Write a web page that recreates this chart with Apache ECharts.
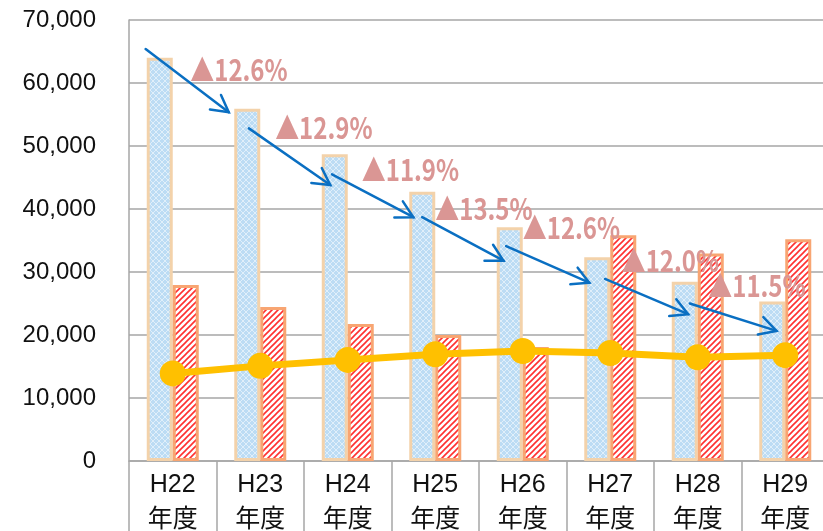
<!DOCTYPE html>
<html>
<head>
<meta charset="utf-8">
<script src="https://cdn.jsdelivr.net/npm/echarts@6/dist/echarts.min.js"></script>
<style>
  html, body { margin: 0; padding: 0; background: #fff; }
  #chart { width: 823px; height: 531px; }
</style>
</head>
<body>
<div id="chart"></div>
<script>
// Fiscal years
const years = ['H22\n年度', 'H23\n年度', 'H24\n年度', 'H25\n年度', 'H26\n年度', 'H27\n年度', 'H28\n年度', 'H29\n年度'];
// Blue (cross-hatched) bars
const blueValues = [64000, 55900, 48700, 42750, 37100, 32350, 28450, 25300];
// Red (striped) bars
const redValues = [27950, 24450, 21750, 20000, 18100, 35850, 32950, 35200];
// Yellow line
const lineValues = [13900, 15100, 16050, 16950, 17450, 17150, 16450, 16800];
// Y-axis ticks
const yMin = 0, yMax = 70000, yStep = 10000;

// Decline arrows: start / end points, x in category units (0..8), y in axis values
const arrowFrom = [[0.19, 65400], [1.37, 52800], [2.32, 45500], [3.35, 38700], [4.31, 34100], [5.44, 28900], [6.41, 25000]];
const arrowTo   = [[1.14, 55350], [2.30, 43800], [3.25, 38700], [4.28, 31800], [5.26, 28300], [6.39, 23300], [7.40, 20650]];

// Year-on-year decline labels, anchored at their left-middle point
const declineText = ['▲12.6%', '▲12.9%', '▲11.9%', '▲13.5%', '▲12.6%', '▲12.0%', '▲11.5%'];
const declinePos  = [[0.70, 62200], [1.67, 53000], [2.66, 46300], [3.50, 40000], [4.50, 37000], [5.63, 31750], [6.62, 27800]];

const FONT = '"Liberation Sans", "Noto Sans CJK JP", sans-serif';

function makePattern(size, draw) {
  const c = document.createElement('canvas');
  c.width = size; c.height = size;
  draw(c.getContext('2d'), size);
  return c;
}

// Light blue fill with a fine white diamond lattice
const bluePattern = makePattern(6, (ctx, s) => {
  ctx.fillStyle = '#bcdcf4';
  ctx.fillRect(0, 0, s, s);
  ctx.strokeStyle = 'rgba(255,255,255,0.6)';
  ctx.lineWidth = 0.9;
  ctx.beginPath();
  ctx.moveTo(-1, -1); ctx.lineTo(s + 1, s + 1);
  ctx.moveTo(-1, s + 1); ctx.lineTo(s + 1, -1);
  ctx.stroke();
});

// White fill with red "/" stripes
const redPattern = makePattern(6, (ctx, s) => {
  ctx.fillStyle = '#ffffff';
  ctx.fillRect(0, 0, s, s);
  ctx.strokeStyle = '#ff3030';
  ctx.lineWidth = 1.6;
  ctx.beginPath();
  for (let k = -1; k <= 1; k++) {
    ctx.moveTo(k * s - 1, s + 1);
    ctx.lineTo(k * s + s + 1, -1);
  }
  ctx.stroke();
});

const chart = echarts.init(document.getElementById('chart'), null, { renderer: 'canvas' });

const arrowData = arrowFrom.map((p, i) => [p[0], p[1], arrowTo[i][0], arrowTo[i][1]]);
const declineData = declinePos.map((p, i) => [p[0], p[1]]);

const gridColor = '#a6a6a6';

chart.setOption({
  animation: false,
  backgroundColor: '#ffffff',
  grid: { left: 129, top: 20, width: 700, height: 441, containLabel: false, outerBoundsMode: 'none' },
  xAxis: [
    {
      type: 'category',
      data: years,
      boundaryGap: true,
      axisLine: { show: true, lineStyle: { color: gridColor, width: 1.5 } },
      axisTick: { show: true, length: 72, interval: 0, lineStyle: { color: gridColor, width: 1.5 } },
      axisLabel: {
        interval: 0, margin: 7, color: '#111',
        fontFamily: FONT, fontSize: 25, lineHeight: 35
      },
      splitLine: { show: false }
    },
    { type: 'value', min: 0, max: 8, show: false }
  ],
  yAxis: {
    type: 'value',
    min: yMin, max: yMax, interval: yStep,
    axisLine: { show: true, lineStyle: { color: gridColor, width: 1.5 } },
    axisTick: { show: false },
    axisLabel: {
      margin: 33, color: '#111', fontFamily: FONT, fontSize: 24,
      formatter: v => v.toLocaleString('en-US')
    },
    splitLine: { show: true, lineStyle: { color: gridColor, width: 1.5 } }
  },
  series: [
    {
      type: 'bar',
      data: blueValues,
      barWidth: 26,
      barGap: '0%',
      itemStyle: { color: { image: bluePattern, repeat: 'repeat' }, borderColor: '#f3d2aa', borderWidth: 3 },
      z: 2
    },
    {
      type: 'bar',
      data: redValues,
      barWidth: 26,
      barGap: '0%',
      itemStyle: { color: { image: redPattern, repeat: 'repeat' }, borderColor: '#f8a572', borderWidth: 3 },
      z: 2
    },
    {
      type: 'line',
      data: lineValues,
      symbol: 'circle',
      symbolSize: 26,
      lineStyle: { color: '#ffc000', width: 7 },
      itemStyle: { color: '#ffc000' },
      z: 3
    },
    {
      type: 'custom',
      xAxisIndex: 1,
      data: arrowData,
      z: 4,
      renderItem(params, api) {
        const p0 = api.coord([api.value(0), api.value(1)]);
        const p1 = api.coord([api.value(2), api.value(3)]);
        const ang = Math.atan2(p1[1] - p0[1], p1[0] - p0[0]);
        const L = 19, a = 0.5;
        const h1 = [p1[0] - L * Math.cos(ang - a), p1[1] - L * Math.sin(ang - a)];
        const h2 = [p1[0] - L * Math.cos(ang + a), p1[1] - L * Math.sin(ang + a)];
        const st = { stroke: '#0a6fc2', lineWidth: 2.5, fill: null, lineCap: 'round', lineJoin: 'miter' };
        return {
          type: 'group',
          children: [
            { type: 'line', shape: { x1: p0[0], y1: p0[1], x2: p1[0], y2: p1[1] }, style: st },
            { type: 'polyline', shape: { points: [h1, p1, h2] }, style: st }
          ]
        };
      }
    },
    {
      type: 'custom',
      xAxisIndex: 1,
      data: declineData,
      z: 5,
      renderItem(params, api) {
        const p = api.coord([api.value(0), api.value(1)]);
        return {
          type: 'text',
          x: p[0], y: p[1],
          scaleX: 0.8,
          style: {
            text: declineText[params.dataIndex],
            fill: '#da9694',
            fontFamily: '"Noto Sans CJK JP", sans-serif',
            fontSize: 30,
            fontWeight: 'bold',
            align: 'left',
            verticalAlign: 'middle'
          }
        };
      }
    }
  ]
});
</script>
</body>
</html>
